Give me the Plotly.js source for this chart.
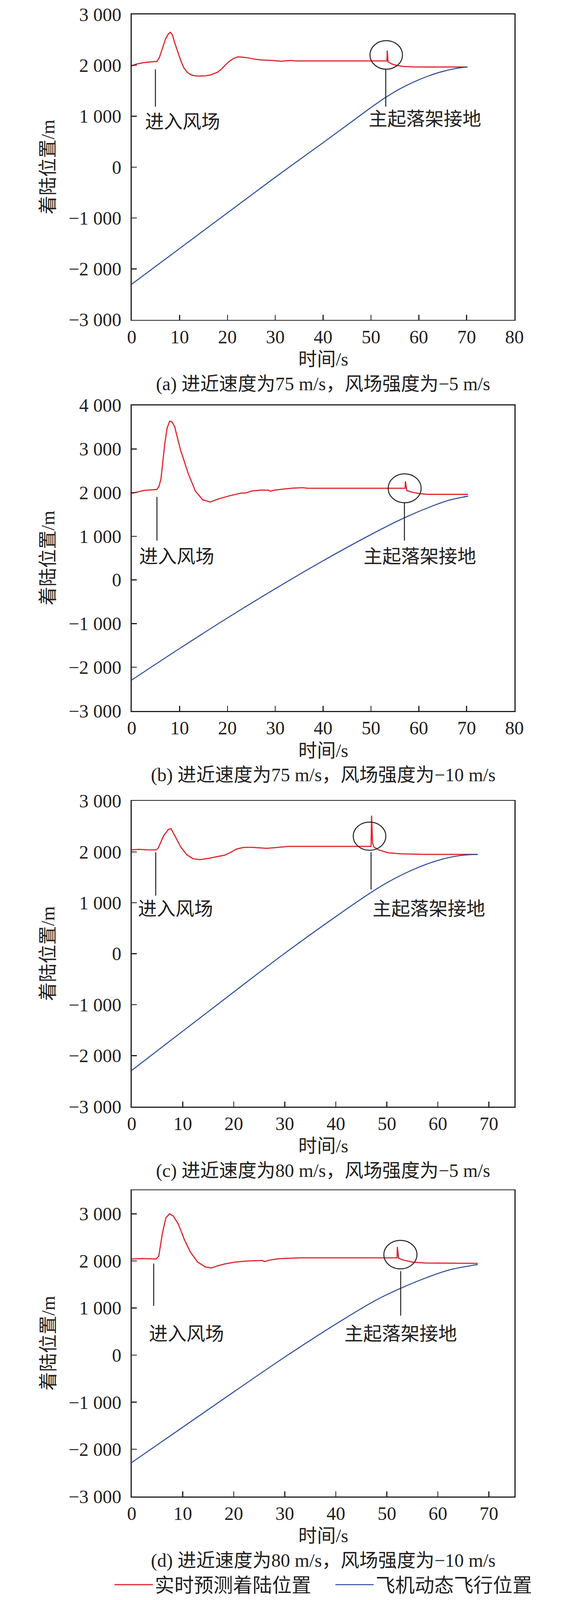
<!DOCTYPE html>
<html>
<head>
<meta charset="utf-8">
<script src="https://cdn.plot.ly/plotly-3.0.1.min.js"></script>
<style>
  html, body { margin: 0; padding: 0; background: #fff; overflow: hidden; }
</style>
</head>
<body>
<div id="chart"></div>
<script>
// ---- data ----
const seriesNames = ["实时预测着陆位置", "飞机动态飞行位置"]

// (a) 75 m/s, -5 m/s
const tRedA = [0, 1, 2.5, 4, 5.3, 5.8, 6.24, 7.05, 7.6, 8.05, 8.5, 8.96, 9.78, 10.3, 10.87, 11.7, 12.5, 13.3, 14.3, 15.5, 16.5, 17.9, 18.8, 19.6, 20.4, 21.3, 22.2, 23.3, 24.5, 25.8, 27.1, 28.5, 29.6, 30.5, 31.2, 32.2, 33.2, 34.2, 53.35, 53.4, 53.6, 54.3, 55.2, 56.7, 58.7, 62, 70.2]
const redA = [1990, 2025, 2054, 2068, 2078, 2160, 2289, 2514, 2610, 2650, 2600, 2447, 2222, 2080, 1954, 1853, 1810, 1793, 1788, 1795, 1812, 1862, 1930, 2010, 2080, 2135, 2166, 2160, 2143, 2120, 2105, 2100, 2094, 2086, 2080, 2088, 2096, 2087, 2087, 2290, 2065, 2030, 2002, 1979, 1970, 1968, 1968]
const tBlueA = [0, 10, 20, 30, 40, 47, 50, 53, 56, 59, 62, 65, 68, 70.2]
const blueA = [-2300, -1600, -900, -200, 480, 963, 1170, 1365, 1535, 1675, 1790, 1880, 1942, 1968]

// (b) 75 m/s, -10 m/s
const tRedB = [0, 2.56, 5.27, 5.7, 6.1, 6.9, 7.4, 7.93, 8.4, 8.95, 10.2, 11.8, 13.3, 14.8, 16.4, 18.4, 20.5, 22.8, 23.8, 25.1, 27.1, 28.6, 29.0, 29.7, 31.7, 33.8, 35.8, 36.8, 57.15, 57.2, 57.5, 58.8, 60.4, 61.9, 70.3]
const redB = [1982, 2049, 2072, 2150, 2305, 3112, 3480, 3637, 3620, 3516, 2978, 2439, 2036, 1839, 1785, 1865, 1928, 1987, 1991, 2036, 2058, 2054, 2031, 2054, 2081, 2103, 2112, 2099, 2099, 2260, 2045, 2004, 1973, 1960, 1960]
const tBlueB = [0, 10, 20, 30, 40, 50, 57, 63, 66.5, 70.3]
const blueB = [-2291, -1571, -871, -201, 439, 1039, 1424, 1700, 1830, 1919]

// (c) 80 m/s, -5 m/s
const tRedC = [0, 1.4, 2.9, 4.8, 5.2, 6.2, 7.2, 7.7, 8.6, 9.6, 10.8, 12.0, 13.4, 15.3, 18.2, 19.2, 20.6, 22.0, 23.7, 26.4, 28.3, 30.7, 46.9, 47.0, 47.2, 47.45, 48.4, 50.3, 52.7, 57.5, 67.8]
const redC = [2038, 2050, 2040, 2038, 2077, 2308, 2442, 2454, 2288, 2096, 1942, 1865, 1846, 1877, 1935, 1981, 2058, 2088, 2088, 2069, 2085, 2108, 2108, 2711, 2173, 2096, 2038, 1981, 1962, 1950, 1950]
const tBlueC = [0, 10, 20, 30, 40, 46.7, 50.3, 55.1, 59.9, 64.2, 67.8]
const blueC = [-2290, -1520, -750, 10, 730, 1190, 1410, 1650, 1830, 1925, 1950]

// (d) 80 m/s, -10 m/s
const tRedD = [0, 1.9, 4.8, 5.3, 6.0, 6.7, 7.4, 8.1, 9.1, 10.3, 11.5, 12.9, 14.4, 15.6, 16.8, 18.2, 20.1, 22.5, 25.6, 26.0, 27.1, 28.7, 30.7, 33.1, 52.0, 52.05, 52.3, 53.2, 55.1, 57.5, 67.8]
const redD = [2042, 2050, 2042, 2104, 2584, 2918, 3002, 2960, 2793, 2459, 2188, 1979, 1875, 1850, 1896, 1937, 1975, 2000, 2012, 1987, 2021, 2046, 2058, 2067, 2067, 2300, 2058, 2021, 1975, 1958, 1950]
const tBlueD = [0, 10, 20, 30, 40, 47.9, 52.7, 57.5, 62.3, 67.8]
const blueD = [-2280, -1530, -780, -40, 660, 1170, 1420, 1635, 1812, 1925]

const captions = [
    "(a) 进近速度为75 m/s，风场强度为−5 m/s",
    "(b) 进近速度为75 m/s，风场强度为−10 m/s",
    "(c) 进近速度为80 m/s，风场强度为−5 m/s",
    "(d) 进近速度为80 m/s，风场强度为−10 m/s",
]
const xTicks80 = [0, 10, 20, 30, 40, 50, 60, 70, 80]
const xTicks70 = [0, 10, 20, 30, 40, 50, 60, 70]
const yTicks3 = [-3000, -2000, -1000, 0, 1000, 2000, 3000]
const yTicks4 = [-3000, -2000, -1000, 0, 1000, 2000, 3000, 4000]
const yTitle = "着陆位置/m"
const xTitle = "时间/s"
const entryLabel = "进入风场"
const touchLabel = "主起落架接地"

// ---- layout ----
// reference page is 1476 x 4635; the window may be shorter, so the
// vertical layout is kept as fractions of the reference height
const W = 1476, REF_H = 4635
const H = Math.min(REF_H, window.innerHeight || REF_H)
document.getElementById("chart").style.width = W + "px"
document.getElementById("chart").style.height = H + "px"

const left = 337, right = 1316
const ink = "#231f20"
const red = "#e2262d"
const blue = "#2d4c9c"
const font = "'Liberation Serif', 'Noto Sans CJK SC', serif"
const fs = 48

const fmt = (v) => {
    const a = Math.abs(v)
    const s = a >= 1000 ? `${Math.floor(a / 1000)} ${String(a % 1000).padStart(3, "0")}` : String(a)
    return v < 0 ? "\u2212" + s : s
}

// marker positions (entry line, touchdown line, circle, labels) per panel
const panels = [
    {top: 28, bottom: 917, xr: [0, 80], yr: [-3000, 3000], xt: xTicks80, yt: yTicks3,
     tr: tRedA, r: redA, tb: tBlueA, b: blueA,
     entry: [4.95, 1188, 1919], touch: [53.1, 1188, 1923], circ: [49.8, 56.6, 1923, 2485],
     entryTxt: [2.6, 895], touchTxt: [61.3, 949]},
    {top: 1166, bottom: 2056, xr: [0, 80], yr: [-3000, 4000], xt: xTicks80, yt: yTicks4,
     tr: tRedB, r: redB, tb: tBlueB, b: blueB,
     entry: [5.27, 901, 1901], touch: [57.0, 901, 1767], circ: [53.6, 60.5, 1767, 2430],
     entryTxt: [1.4, 534], touchTxt: [60.2, 534]},
    {top: 2318, bottom: 3208, xr: [0, 75], yr: [-3000, 3000], xt: xTicks70, yt: yTicks3,
     tr: tRedC, r: redC, tb: tBlueC, b: blueC,
     entry: [4.7, 1142, 1992], touch: [46.9, 1262, 1992], circ: [43.4, 49.8, 2031, 2585],
     entryTxt: [1.1, 885], touchTxt: [58.2, 885]},
    {top: 3452, bottom: 4343, xr: [0, 75], yr: [-3000, 3500], xt: xTicks70, yt: yTicks3,
     tr: tRedD, r: redD, tb: tBlueD, b: blueD,
     entry: [4.3, 1048, 1946], touch: [52.7, 840, 1783], circ: [49.4, 55.9, 1833, 2438],
     entryTxt: [3.2, 456], touchTxt: [52.7, 456]},
]

// reference pixel row -> paper fraction, with a little room at the top so
// the first tick label is not clipped
const TOP_PAD = 14, BOT_PAD = 4
const py = (px) => 1 - (TOP_PAD + px * (REF_H - TOP_PAD - BOT_PAD) / REF_H) / REF_H
const data = []
const shapes = []
const annotations = []
const layout = {
    width: W, height: H,
    margin: {l: 0, r: 0, t: 0, b: 0},
    paper_bgcolor: "#fff", plot_bgcolor: "#fff",
    font: {family: font, size: fs, color: ink},
    showlegend: true,
    legend: {orientation: "h", x: 288 / W, xanchor: "left", y: py(4600), yanchor: "middle",
             font: {family: font, size: 50, color: ink}, itemwidth: 98,
             entrywidth: 452, entrywidthmode: "pixels", tracegroupgap: 0},
}

panels.forEach((p, i) => {
    const n = i + 1
    const xa = n === 1 ? "x" : "x" + n
    const ya = n === 1 ? "y" : "y" + n
    const axisStyle = {
        ticks: "inside", ticklen: 13, tickwidth: 2.5, tickcolor: ink,
        showline: true, linewidth: 2.8, linecolor: ink, mirror: true,
        showgrid: false, zeroline: false, ticklabeloverflow: "allow",
        tickfont: {family: font, size: fs, color: ink},
    }
    layout[n === 1 ? "xaxis" : "xaxis" + n] = Object.assign({}, axisStyle, {
        domain: [left / W, right / W], anchor: ya, range: p.xr,
        tickmode: "array", tickvals: p.xt, ticktext: p.xt.map(String), ticklabelstandoff: 0,
    })
    layout[n === 1 ? "yaxis" : "yaxis" + n] = Object.assign({}, axisStyle, {
        domain: [py(p.bottom), py(p.top)], anchor: xa, range: p.yr,
        tickmode: "array", tickvals: p.yt, ticktext: p.yt.map(fmt), ticklabelstandoff: 14,
    })

    data.push({x: p.tr, y: p.r, xaxis: xa, yaxis: ya, type: "scatter", mode: "lines",
               name: seriesNames[0], showlegend: n === 1, line: {color: red, width: 3}})
    data.push({x: p.tb, y: p.b, xaxis: xa, yaxis: ya, type: "scatter", mode: "lines",
               name: seriesNames[1], showlegend: n === 1, line: {color: blue, width: 2.6, shape: "spline", smoothing: 1}})

    const lineStyle = {color: ink, width: 2.5}
    shapes.push({type: "line", xref: xa, yref: ya, x0: p.entry[0], x1: p.entry[0], y0: p.entry[1], y1: p.entry[2], line: lineStyle})
    shapes.push({type: "line", xref: xa, yref: ya, x0: p.touch[0], x1: p.touch[0], y0: p.touch[1], y1: p.touch[2], line: lineStyle})
    shapes.push({type: "circle", xref: xa, yref: ya, x0: p.circ[0], x1: p.circ[1], y0: p.circ[2], y1: p.circ[3], line: lineStyle})

    annotations.push({xref: xa, yref: ya, x: p.entryTxt[0], y: p.entryTxt[1], text: entryLabel,
                      xanchor: "left", yanchor: "middle", showarrow: false, font: {size: fs}})
    annotations.push({xref: xa, yref: ya, x: p.touchTxt[0], y: p.touchTxt[1], text: touchLabel,
                      xanchor: "center", yanchor: "middle", showarrow: false, font: {size: fs}})

    // axis titles and caption
    const mid = (p.top + p.bottom) / 2
    annotations.push({xref: "paper", yref: "paper", x: 123 / W, y: py(mid), text: yTitle, textangle: -90,
                      xanchor: "center", yanchor: "middle", showarrow: false, font: {size: fs}})
    annotations.push({xref: "paper", yref: "paper", x: (left + right) / 2 / W, y: py(p.bottom + 115), text: xTitle,
                      xanchor: "center", yanchor: "middle", showarrow: false, font: {size: fs}})
    annotations.push({xref: "paper", yref: "paper", x: (left + right) / 2 / W, y: py(p.bottom + 187), text: captions[i],
                      xanchor: "center", yanchor: "middle", showarrow: false, font: {size: fs}})
})

layout.shapes = shapes
layout.annotations = annotations

Plotly.newPlot("chart", data, layout, {staticPlot: true})
</script>
</body>
</html>
